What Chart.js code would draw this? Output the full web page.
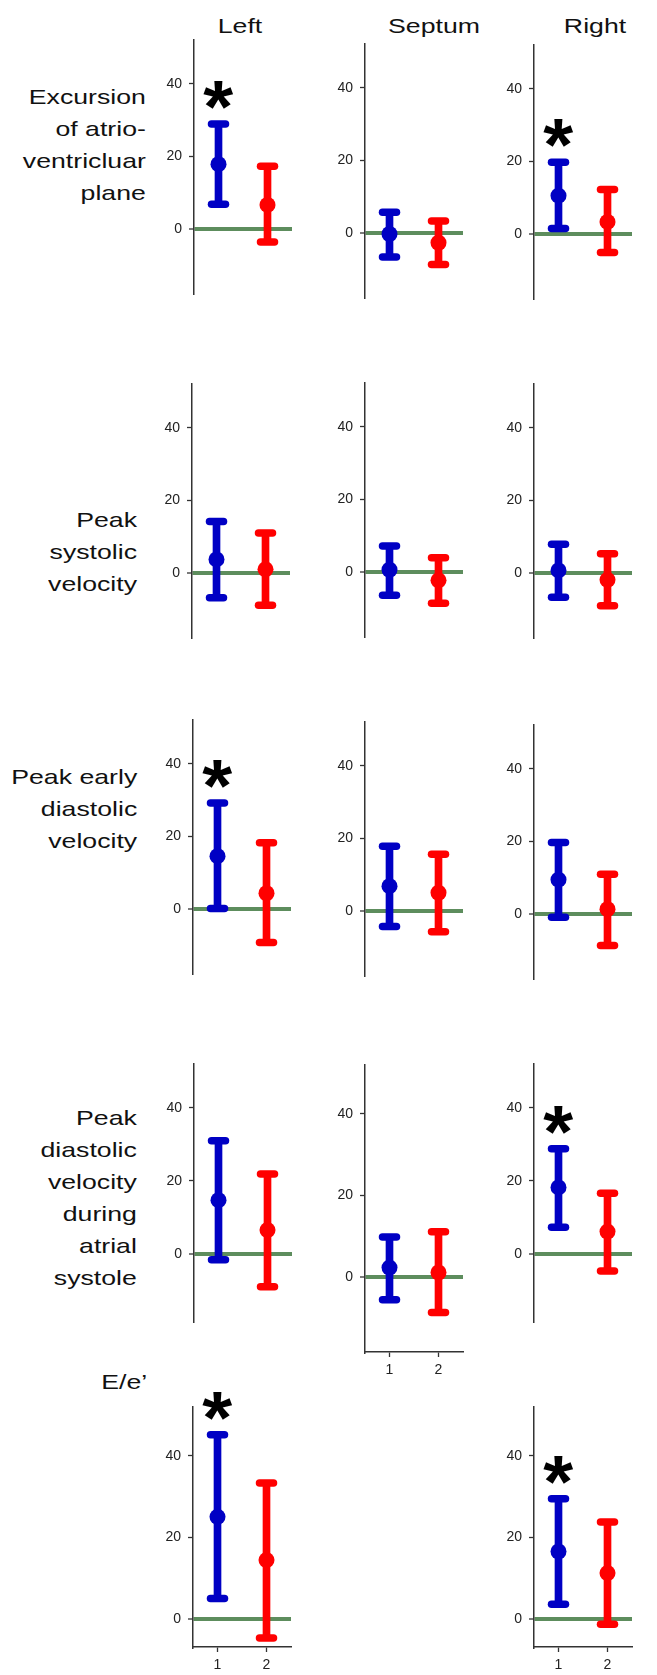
<!DOCTYPE html>
<html><head><meta charset="utf-8">
<script src="https://cdn.jsdelivr.net/npm/chart.js@4.4.1/dist/chart.umd.min.js"></script>
<style>
html,body{margin:0;padding:0;background:#fff;}
body{width:657px;height:1675px;position:relative;overflow:hidden;font-family:'Liberation Sans',Arial,sans-serif;}
.t{position:absolute;font-size:21px;line-height:32px;color:#111;white-space:nowrap;}
.col{width:200px;text-align:center;transform:scaleX(1.27);transform-origin:50% 50%;}
.row{text-align:right;transform:scaleX(1.27);transform-origin:100% 50%;}
canvas{position:absolute;}
</style></head><body>
<script>
// ---------- data ----------
const categories = ['1', '2'];
const regions = ['Left', 'Septum', 'Right'];
const measures = [
  ['Excursion', 'of atrio-', 'ventricluar', 'plane'],
  ['Peak', 'systolic', 'velocity'],
  ['Peak early', 'diastolic', 'velocity'],
  ['Peak', 'diastolic', 'velocity', 'during', 'atrial', 'systole'],
  ['E/e\u2019']
];
const yTicks = [0, 20, 40];
const yMax = 52;
const yMinByRow = [-17.5, -17.5, -17.5, -18.4, -6.8];

// group 1 (blue) / group 2 (red): mean, lower, upper, per measure row
const leftMean1  = [17.9, 3.8, 14.6, 14.7, 25.1];
const leftLow1   = [6.9, -6.7, 0.2, -1.6, 5.1];
const leftHigh1  = [28.9, 14.2, 29.2, 31.0, 45.2];
const leftMean2  = [6.7, 1.1, 4.4, 6.5, 14.5];
const leftLow2   = [-3.5, -8.8, -9.1, -9.0, -4.6];
const leftHigh2  = [17.3, 11.1, 18.3, 21.9, 33.4];

const septumMean1 = [-0.2, 0.7, 6.9, 2.3, null];
const septumLow1  = [-6.5, -6.3, -4.2, -5.6, null];
const septumHigh1 = [5.8, 7.2, 17.9, 9.8, null];
const septumMean2 = [-2.6, -2.2, 5.1, 1.1, null];
const septumLow2  = [-8.6, -8.5, -5.6, -8.7, null];
const septumHigh2 = [3.4, 4.0, 15.7, 11.1, null];

const rightMean1 = [10.6, 0.8, 9.5, 18.2, 16.6];
const rightLow1  = [1.6, -6.6, -0.8, 7.3, 3.7];
const rightHigh1 = [19.8, 8.0, 19.7, 28.8, 29.5];
const rightMean2 = [3.4, -1.8, 1.4, 6.1, 11.3];
const rightLow2  = [-5.0, -8.9, -8.6, -4.7, -1.2];
const rightHigh2 = [12.3, 5.4, 11.0, 16.6, 23.8];

// significance marks (asterisk above group 1)
const leftStar   = [true, false, true, false, true];
const septumStar = [false, false, false, false, false];
const rightStar  = [true, false, false, true, true];

// ---------- styling / layout ----------
const groupColors = ['#0000c4', '#ff0000'];
const zeroColor = '#5d8d5d';
const axisColor = '#333333';
const PX = 4.075;           // pixels per unit
const Y_W = 40, PAD_T = 34, PAD_R = 12, PAD_B = 8, X_H = 30, AREA_W = 98;
const panelTop = [[40.1, 43.8, 45.1], [383.8, 383.1, 383.8], [720.1, 721.8, 725.1], [1063.8, 1064.5, 1063.8], [1406.8, null, 1407.1]];
const panelAxisX = [[194, 365, 534], [192.3, 365, 534], [193.3, 365, 534], [194.3, 365, 534], [193, null, 534]];
const colTitleX = [240, 434, 594.5];
const rowLabelRight = [146, 137, 137, 137, 147];
const rowLabelTop = [81, 504, 761, 1102, 1366];

Chart.defaults.font.family = "'Liberation Sans', Arial, sans-serif";

const mean1 = [leftMean1, septumMean1, rightMean1];
const low1 = [leftLow1, septumLow1, rightLow1];
const high1 = [leftHigh1, septumHigh1, rightHigh1];
const mean2 = [leftMean2, septumMean2, rightMean2];
const low2 = [leftLow2, septumLow2, rightLow2];
const high2 = [leftHigh2, septumHigh2, rightHigh2];
const stars = [leftStar, septumStar, rightStar];

// text labels
regions.forEach((r, i) => {
  const d = document.createElement('div');
  d.className = 't col';
  d.textContent = r;
  d.style.left = (colTitleX[i] - 100) + 'px';
  d.style.top = '10px';
  document.body.appendChild(d);
});
measures.forEach((lines, i) => {
  const d = document.createElement('div');
  d.className = 't row';
  d.innerHTML = lines.join('<br>');
  d.style.right = (657 - rowLabelRight[i]) + 'px';
  d.style.top = rowLabelTop[i] + 'px';
  document.body.appendChild(d);
});

const errPlugin = {
  id: 'errbars',
  beforeDatasetsDraw(chart) {
    const o = chart.options.plugins.errbars;
    const xs = chart.scales.x, ys = chart.scales.y, ctx = chart.ctx;
    ctx.save();
    ctx.lineCap = 'round';
    ctx.lineWidth = 7.5;
    o.lows.forEach((lo, i) => {
      const x = xs.getPixelForValue(i);
      ctx.strokeStyle = groupColors[i];
      [lo, o.highs[i]].forEach(v => {
        const y = ys.getPixelForValue(v);
        ctx.beginPath(); ctx.moveTo(x - 7, y); ctx.lineTo(x + 7, y); ctx.stroke();
      });
    });
    ctx.restore();
  },
  afterDatasetsDraw(chart) {
    const o = chart.options.plugins.errbars;
    if (!o.star) return;
    const xs = chart.scales.x, ys = chart.scales.y, ctx = chart.ctx;
    ctx.save();
    ctx.font = 'bold 100px "Liberation Sans", Arial, sans-serif';
    const m = ctx.measureText('*');
    const gh = m.actualBoundingBoxAscent + m.actualBoundingBoxDescent;
    const gw = m.actualBoundingBoxLeft + m.actualBoundingBoxRight;
    const f = 100 * 28 / gh;
    const sx = (30 / (gw * f / 100));
    const cx = xs.getPixelForValue(0);
    const cy = ys.getPixelForValue(o.highs[0]) - 29;
    ctx.font = 'bold ' + f + 'px "Liberation Sans", Arial, sans-serif';
    const m2 = ctx.measureText('*');
    const base = cy + (m2.actualBoundingBoxAscent - m2.actualBoundingBoxDescent) / 2;
    const gcx = (m2.actualBoundingBoxRight - m2.actualBoundingBoxLeft) / 2;
    ctx.translate(cx, base);
    ctx.scale(sx, 1);
    ctx.fillStyle = '#000';
    ctx.textBaseline = 'alphabetic';
    ctx.textAlign = 'left';
    ctx.fillText('*', -gcx, 0);
    ctx.restore();
  }
};

function makePanel(r, c) {
  if (mean1[c][r] === null) return;
  const hasX = (r === 4) || (r === 3 && c === 1);
  const yMin = yMinByRow[r];
  const chartH = (yMax - yMin) * PX;
  const left = Math.round(panelAxisX[r][c] - Y_W);
  const top = Math.round(panelTop[r][c] - PAD_T);
  const cv = document.createElement('canvas');
  cv.width = Y_W + AREA_W + PAD_R;
  cv.height = Math.round(PAD_T + chartH + (hasX ? X_H : PAD_B));
  cv.style.left = left + 'px';
  cv.style.top = top + 'px';
  document.body.appendChild(cv);
  const lows = [low1[c][r], low2[c][r]];
  const highs = [high1[c][r], high2[c][r]];
  new Chart(cv, {
    type: 'bar',
    data: {
      labels: categories,
      datasets: [
        { type: 'bar', data: lows.map((lo, i) => [lo, highs[i]]), backgroundColor: groupColors,
          barThickness: 7, borderWidth: 0, order: 2 },
        { type: 'line', data: [mean1[c][r], mean2[c][r]], showLine: false, pointRadius: 8,
          pointBackgroundColor: groupColors, pointBorderColor: groupColors, pointBorderWidth: 0, order: 1 }
      ]
    },
    options: {
      responsive: false, animation: false, events: [],
      layout: { padding: { left: 0, right: PAD_R, top: PAD_T, bottom: hasX ? 0 : PAD_B } },
      plugins: { legend: { display: false }, tooltip: { enabled: false },
        errbars: { lows: lows, highs: highs, star: stars[c][r] } },
      scales: {
        x: {
          type: 'category', offset: true, display: hasX,
          grid: { offset: false, drawOnChartArea: false, drawTicks: true, tickLength: 5, tickColor: axisColor, tickWidth: 1.3 },
          border: { display: true, color: axisColor, width: 1.5 },
          ticks: { font: { size: 14 }, color: '#222', padding: 5, maxRotation: 0 },
          afterFit: s => { s.height = X_H; s.paddingLeft = 0; s.paddingRight = 0; }
        },
        y: {
          type: 'linear', min: yMin, max: yMax,
          afterBuildTicks: s => { s.ticks = yTicks.map(v => ({ value: v })); },
          grid: {
            color: ctx => (ctx.tick && ctx.tick.value === 0) ? zeroColor : 'rgba(0,0,0,0)',
            lineWidth: ctx => (ctx.tick && ctx.tick.value === 0) ? 4 : 1,
            drawTicks: true, tickLength: 5, tickColor: axisColor, tickWidth: 1.3
          },
          border: { display: true, color: axisColor, width: 1.5 },
          ticks: { font: { size: 14 }, color: '#222', padding: 7 },
          afterFit: s => { s.width = Y_W; s.paddingTop = 0; s.paddingBottom = 0; }
        }
      }
    },
    plugins: [errPlugin]
  });
}

for (let r = 0; r < 5; r++) for (let c = 0; c < 3; c++) makePanel(r, c);
</script>
</body></html>
